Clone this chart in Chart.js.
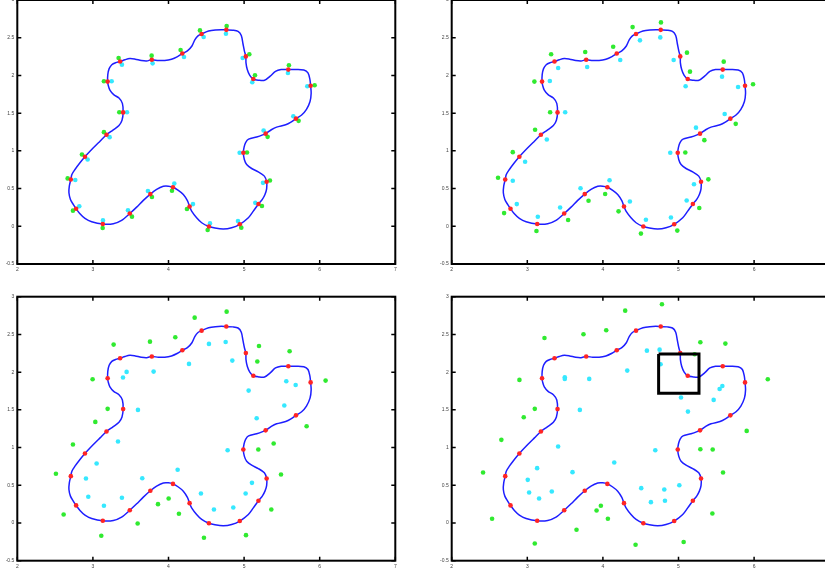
<!DOCTYPE html>
<html><head><meta charset="utf-8">
<script src="https://cdn.jsdelivr.net/npm/chart.js@4.4.0/dist/chart.umd.min.js"></script>
<style>
html,body{margin:0;padding:0;background:#fff;width:825px;height:575px;overflow:hidden;position:relative}
canvas{position:absolute}
</style></head><body>
<canvas id="p1"></canvas><canvas id="p2"></canvas><canvas id="p3"></canvas><canvas id="p4"></canvas>
<script>
const xTicks = [2, 3, 4, 5, 6, 7];
const yTicks = [-0.5, 0, 0.5, 1, 1.5, 2, 2.5, 3];

const curveX = [4.765,4.70,4.62,4.53,4.438,4.39,4.35,4.31,4.25,4.183,4.12,4.04,3.95,3.865,3.779,3.71,3.64,3.56,3.49,3.425,3.360,3.30,3.25,3.215,3.197,3.195,3.203,3.225,3.275,3.345,3.39,3.400,3.385,3.345,3.265,3.180,3.094,3.006,2.895,2.829,2.763,2.722,2.708,2.688,2.683,2.703,2.740,2.778,2.829,2.895,2.984,3.131,3.270,3.380,3.488,3.579,3.667,3.760,3.843,3.932,3.998,4.059,4.130,4.196,4.250,4.279,4.306,4.372,4.439,4.535,4.615,4.725,4.835,4.943,5.056,5.122,5.190,5.241,5.276,5.298,5.298,5.268,5.188,5.100,5.034,5.003,4.990,5.000,5.02,5.06,5.166,5.285,5.36,5.43,5.55,5.62,5.686,5.761,5.825,5.872,5.887,5.880,5.870,5.845,5.79,5.69,5.585,5.49,5.415,5.345,5.27,5.19,5.122,5.075,5.042,5.025,5.023,5.005,4.985,4.963,4.92,4.85,4.765];
const curveY = [2.604,2.607,2.603,2.588,2.550,2.525,2.475,2.39,2.325,2.290,2.25,2.215,2.198,2.198,2.207,2.192,2.198,2.215,2.223,2.208,2.184,2.168,2.142,2.09,2.01,1.918,1.868,1.805,1.745,1.70,1.63,1.510,1.405,1.335,1.275,1.213,1.128,1.040,0.922,0.842,0.753,0.687,0.621,0.533,0.444,0.356,0.290,0.233,0.166,0.104,0.060,0.030,0.034,0.078,0.169,0.254,0.343,0.427,0.490,0.530,0.532,0.518,0.477,0.422,0.340,0.263,0.201,0.113,0.047,-0.003,-0.024,-0.037,-0.020,0.026,0.113,0.201,0.295,0.356,0.422,0.495,0.590,0.665,0.722,0.766,0.819,0.886,0.975,1.05,1.11,1.155,1.183,1.228,1.28,1.315,1.345,1.38,1.427,1.475,1.55,1.655,1.765,1.864,1.95,2.035,2.072,2.078,2.077,2.078,2.055,1.99,1.935,1.937,1.952,2.0,2.078,2.166,2.252,2.32,2.42,2.53,2.585,2.60,2.604];

const redX = [4.765,4.438,4.183,3.779,3.360,3.195,3.400,3.180,2.895,2.708,2.778,3.131,3.488,3.760,4.059,4.279,4.535,4.943,5.190,5.298,4.990,5.285,5.686,5.880,5.585,5.122,5.023];
const redY = [2.604,2.550,2.290,2.207,2.184,1.918,1.510,1.213,0.922,0.621,0.233,0.030,0.169,0.427,0.518,0.263,-0.003,0.026,0.295,0.590,0.975,1.228,1.427,1.864,2.077,1.952,2.252];

const green1X = [4.769,4.416,4.160,3.777,3.340,3.146,3.349,3.146,2.855,2.666,2.736,3.129,3.517,3.781,4.046,4.244,4.518,4.963,5.236,5.342,5.038,5.311,5.721,5.933,5.593,5.144,5.069];
const green1Y = [2.654,2.597,2.337,2.262,2.231,1.922,1.512,1.248,0.952,0.635,0.207,-0.022,0.128,0.388,0.472,0.229,-0.049,-0.018,0.269,0.608,0.979,1.186,1.398,1.869,2.134,2.002,2.280];
const cyan1X = [4.760,4.465,4.205,3.790,3.384,3.248,3.451,3.221,2.930,2.767,2.820,3.133,3.464,3.728,4.077,4.324,4.549,4.919,5.148,5.250,4.941,5.258,5.651,5.836,5.580,5.108,4.981];
const cyan1Y = [2.553,2.509,2.244,2.160,2.143,1.922,1.512,1.182,0.886,0.613,0.265,0.078,0.212,0.467,0.567,0.294,0.038,0.069,0.311,0.576,0.974,1.270,1.459,1.856,2.033,1.909,2.231];

const green2X = [4.768,4.393,4.136,3.766,3.315,3.094,3.302,3.103,2.808,2.613,2.693,3.121,3.540,3.810,4.030,4.207,4.503,4.984,5.275,5.395,5.090,5.342,5.757,5.986,5.598,5.152,5.112];
const green2Y = [2.703,2.641,2.381,2.310,2.280,1.918,1.512,1.279,0.983,0.644,0.175,-0.062,0.084,0.339,0.428,0.198,-0.097,-0.057,0.242,0.622,0.979,1.142,1.358,1.883,2.183,2.050,2.302];
const cyan2X = [4.759,4.490,4.229,3.792,3.408,3.298,3.501,3.258,2.971,2.808,2.861,3.139,3.434,3.704,4.088,4.357,4.569,4.900,5.108,5.205,4.891,5.231,5.611,5.788,5.576,5.094,4.936];
const cyan2Y = [2.504,2.465,2.205,2.112,2.099,1.927,1.512,1.151,0.855,0.603,0.294,0.126,0.250,0.505,0.611,0.329,0.087,0.117,0.342,0.558,0.974,1.308,1.489,1.847,1.984,1.856,2.205];

const green3X = [4.769,4.346,4.090,3.755,3.274,2.996,3.195,3.032,2.736,2.511,2.613,3.111,3.592,3.861,4.002,4.138,4.469,5.025,5.360,5.488,5.188,5.391,5.827,6.078,5.602,5.175,5.197];
const green3Y = [2.802,2.722,2.462,2.404,2.365,1.906,1.513,1.340,1.040,0.652,0.113,-0.170,-0.006,0.250,0.325,0.122,-0.196,-0.161,0.179,0.643,0.974,1.053,1.283,1.888,2.276,2.140,2.347];
const cyan3X = [4.756,4.535,4.271,3.803,3.446,3.398,3.596,3.332,3.049,2.908,2.939,3.146,3.384,3.653,4.121,4.429,4.601,4.857,5.020,5.104,4.782,5.166,5.532,5.682,5.558,5.060,4.844];
const cyan3Y = [2.400,2.374,2.109,2.007,2.003,1.928,1.499,1.080,0.789,0.590,0.347,0.228,0.334,0.594,0.705,0.391,0.179,0.206,0.391,0.532,0.965,1.389,1.557,1.830,1.879,1.755,2.153];

const green4X = [4.781,4.295,4.044,3.743,3.227,5.289,5.620,5.214,6.181,2.896,3.099,2.953,5.902,2.657,5.289,5.452,5.589,2.415,2.534,3.973,3.916,4.066,3.651,3.099,4.432,5.068,5.448];
const green4Y = [2.899,2.815,2.555,2.502,2.453,2.396,2.378,2.237,1.906,1.897,1.513,1.402,1.221,1.102,0.978,0.974,0.669,0.669,0.056,0.228,0.166,0.056,-0.090,-0.271,-0.289,-0.253,0.126];
const cyan4X = [4.582,4.750,4.763,4.322,3.496,3.496,3.819,5.033,5.465,5.544,5.580,5.125,3.695,3.408,4.693,4.150,3.130,3.598,3.006,3.024,3.156,3.324,4.507,4.812,5.011,4.821,4.635];
const cyan4Y = [2.285,2.298,2.104,2.020,1.932,1.910,1.910,1.663,1.632,1.777,1.817,1.477,1.499,1.014,0.965,0.802,0.727,0.674,0.572,0.404,0.325,0.418,0.462,0.444,0.501,0.294,0.276];

const boxX = [4.737, 5.271, 5.271, 4.737, 4.737];
const boxY = [2.241, 2.241, 1.720, 1.720, 2.241];

const pts = (xs, ys) => xs.map((v, i) => ({x: v, y: ys[i]}));

const frame = {
  id: 'frame',
  afterDraw(chart) {
    const {ctx, chartArea: a, scales: {x, y}} = chart;
    ctx.save();
    ctx.strokeStyle = '#000';
    ctx.lineWidth = 2;
    ctx.strokeRect(a.left, a.top, a.right - a.left, a.bottom - a.top);
    ctx.lineWidth = 1.5;
    ctx.beginPath();
    x.ticks.forEach(t => { const p = x.getPixelForValue(t.value);
      ctx.moveTo(p, a.bottom); ctx.lineTo(p, a.bottom - 4);
      ctx.moveTo(p, a.top); ctx.lineTo(p, a.top + 4); });
    y.ticks.forEach(t => { const p = y.getPixelForValue(t.value);
      ctx.moveTo(a.left, p); ctx.lineTo(a.left + 4, p);
      ctx.moveTo(a.right, p); ctx.lineTo(a.right - 4, p); });
    ctx.stroke();
    ctx.restore();
  }
};

Chart.defaults.font.family = "'Liberation Sans', Arial, sans-serif";

function panel(id, col, row, gX, gY, cX, cY, withBox) {
  const cv = document.getElementById(id);
  const W = 420, YW = col ? 17.7 : 17.3, XH = 14, PH = 264, PW = 378;
  const plotTop = row ? 296.7 : 0;
  const top = row ? 277 : -10;
  const padTop = plotTop - top;
  const H = Math.ceil(padTop + PH + XH);
  const padBottom = H - (padTop + PH + XH);
  const left = col ? 434 : 0;
  cv.width = W; cv.height = H;
  cv.style.left = left + 'px'; cv.style.top = top + 'px';
  cv.style.width = W + 'px'; cv.style.height = H + 'px';
  const dot = (data, color, order) => ({data, showLine: false, pointRadius: 2.3, pointHoverRadius: 2.3,
    pointBackgroundColor: color, pointBorderWidth: 0, pointBorderColor: color, order});
  const datasets = [
    {data: pts(curveX, curveY), showLine: true, borderColor: '#1e1eff', borderWidth: 1.5, pointRadius: 0,
      tension: 0.3, fill: false, order: 1},
    dot(pts(redX, redY), '#ff2424', 0),
    dot(pts(gX, gY), '#30ea30', 2),
    dot(pts(cX, cY), '#36e8ff', 2)
  ];
  if (withBox) datasets.push({data: pts(boxX, boxY), showLine: true, borderColor: '#000', borderWidth: 3,
    pointRadius: 0, tension: 0, fill: false, order: -1});
  new Chart(cv, {
    type: 'scatter',
    data: {datasets},
    plugins: [frame],
    options: {
      responsive: false, animation: false, devicePixelRatio: 1, events: [],
      layout: {autoPadding: false, padding: {left: 0, top: padTop, right: W - YW - PW, bottom: padBottom}},
      plugins: {legend: {display: false}, tooltip: {enabled: false}},
      scales: {
        x: {type: 'linear', min: 2, max: 7,
          grid: {display: false, drawTicks: false}, border: {display: false},
          ticks: {font: {size: 5}, color: '#444', padding: 3, maxRotation: 0, autoSkip: false, callback: v => String(v)},
          afterBuildTicks: s => { s.ticks = xTicks.map(v => ({value: v})); },
          afterFit: s => { s.height = XH; s.paddingLeft = 0; s.paddingRight = 0; s.paddingTop = 0; s.paddingBottom = 0; }},
        y: {type: 'linear', min: -0.5, max: 3,
          grid: {display: false, drawTicks: false}, border: {display: false},
          ticks: {font: {size: 5}, color: '#444', padding: 3, autoSkip: false, callback: v => String(v)},
          afterBuildTicks: s => { s.ticks = yTicks.map(v => ({value: v})); },
          afterFit: s => { s.width = YW; s.paddingLeft = 0; s.paddingRight = 0; s.paddingTop = 0; s.paddingBottom = 0; }}
      }
    }
  });
}

panel('p1', 0, 0, green1X, green1Y, cyan1X, cyan1Y, false);
panel('p2', 1, 0, green2X, green2Y, cyan2X, cyan2Y, false);
panel('p3', 0, 1, green3X, green3Y, cyan3X, cyan3Y, false);
panel('p4', 1, 1, green4X, green4Y, cyan4X, cyan4Y, true);
</script>
</body></html>
